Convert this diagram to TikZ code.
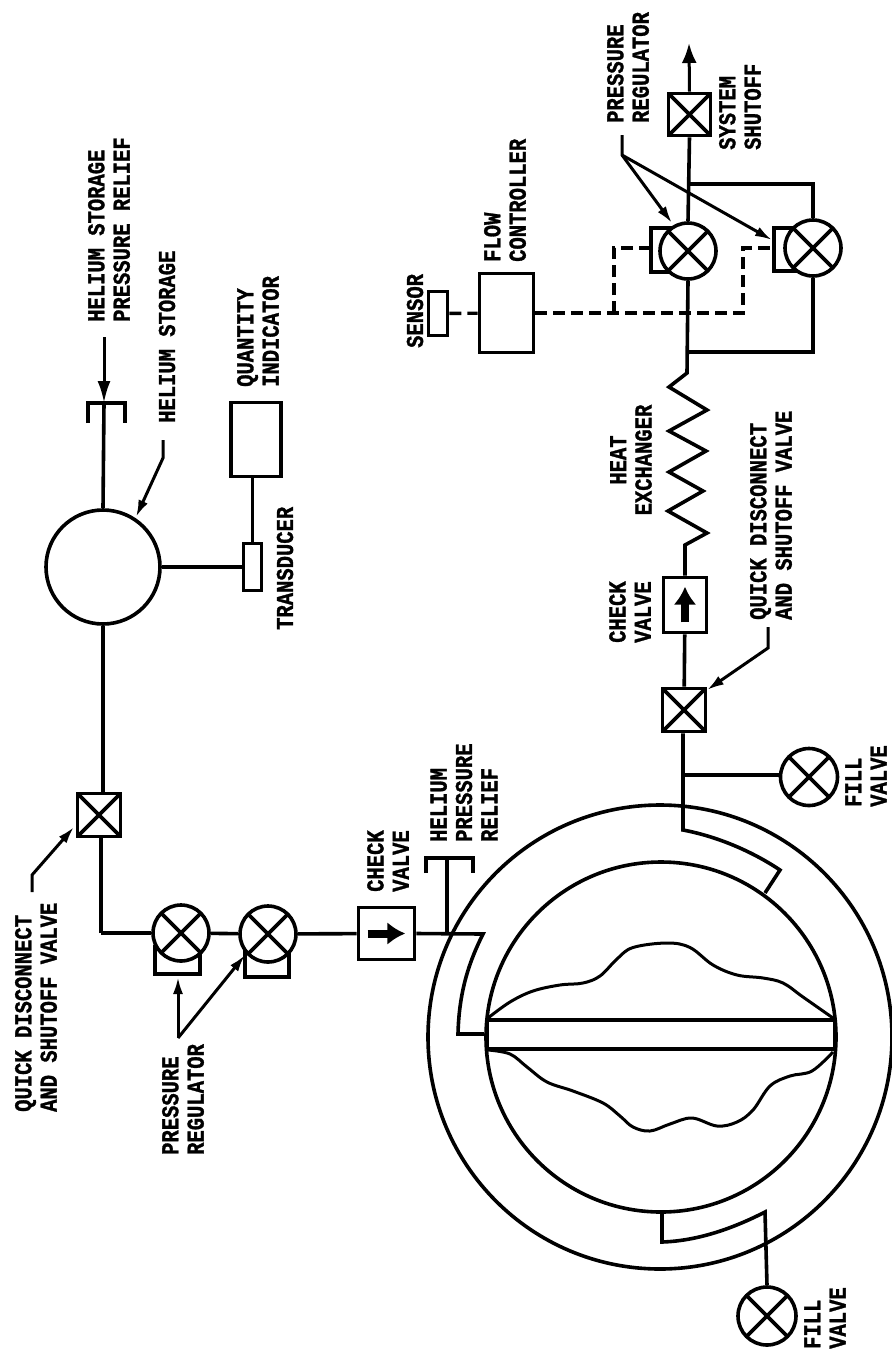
\documentclass[tikz,border=0pt]{standalone}
\usepackage{fontspec}
\setmonofont[BoldFeatures={FakeBold=1.4}]{Liberation Mono}
\usetikzlibrary{arrows.meta}
\tikzset{
  pipe/.style={line width=3.6pt, line join=miter},
  sig/.style={line width=3.4pt, dash pattern=on 12pt off 6pt},
  lead/.style={line width=3pt, -{Latex[length=17pt,width=10pt]}},
  flowarrow/.style={line width=8pt, -{Latex[length=18pt,width=23pt]}},
  lbl/.style={transform shape, rotate=90, yscale=1.18, anchor=west, align=left, inner sep=0pt,
    font=\fontsize{20.5}{21.5}\selectfont\ttfamily\bfseries},
  ctrlbl/.style={lbl, anchor=center, align=center},
  xvalve/.style={draw, circle, pipe, fill=white, inner sep=0pt, minimum size=56pt,
    path picture={\draw[pipe] (path picture bounding box.north west) -- (path picture bounding box.south east)
      (path picture bounding box.north east) -- (path picture bounding box.south west);}},
  qdbox/.style={draw, rectangle, pipe, fill=white, inner sep=0pt, minimum size=43pt,
    path picture={\draw[pipe] (path picture bounding box.north west) -- (path picture bounding box.south east)
      (path picture bounding box.north east) -- (path picture bounding box.south west);}},
  plainbox/.style={draw, rectangle, pipe, fill=white, inner sep=0pt},
  tank/.style={draw, circle, pipe, inner sep=0pt},
}
\begin{document}
\begin{tikzpicture}[x=1pt, y=-1pt, >=latex]
  \useasboundingbox (0,0) rectangle (892,1353);

  % propellant tank
  \node[tank, minimum size=464pt] (tankOuter) at (660,1037) {};
  \node[tank, minimum size=350pt] (tankInner) at (661,1037) {};
  \draw[pipe] (487,1020) rectangle (835,1049);
  \draw[pipe, line width=3pt] plot[smooth, tension=0.6] coordinates {(488,1018) (510,1002) (533,991) (560,985)
    (583,983) (600,976) (617,959) (633,947.5) (667,943) (690,947.5) (713,965) (737,975) (763,978)
    (783,983) (803,997) (833,1018)};
  \draw[pipe, line width=3pt] plot[smooth, tension=0.6] coordinates {(488,1050) (510,1054) (527,1067) (547,1082)
    (573,1091) (603,1103) (620,1116) (633,1127) (650,1131) (670,1124) (692,1118) (717,1126) (737,1122)
    (753,1110) (770,1086) (790,1076) (812,1071) (833,1052)};

  % regulator brackets go under the valves
  \draw[pipe] (155,945) -- (155,974) -- (200,974) -- (200,950);
  \draw[pipe] (245,950) -- (245,977) -- (289,977) -- (289,950);
  \draw[pipe] (675,228) -- (651,228) -- (651,272) -- (675,272);
  \draw[pipe] (800,228) -- (774,228) -- (774,271) -- (800,271);

  % helium side
  \node[tank, minimum size=114pt] (storage) at (103,567) {};
  \node[plainbox, minimum width=50pt, minimum height=74pt] (quantity) at (256,439.5) {};
  \node[plainbox, minimum width=18pt, minimum height=47pt] (transducer) at (252.5,567) {};
  \node[qdbox] (qdA) at (99,815) {};
  \node[xvalve] (regA) at (181,933) {};
  \node[xvalve] (regB) at (268,934) {};
  \node[plainbox, minimum width=56pt, minimum height=52pt] (chkA) at (386.5,933.5) {};

  % feed side
  \node[qdbox] (qdB) at (684,710) {};
  \node[plainbox, minimum width=43pt, minimum height=55pt] (chkB) at (685,605) {};
  \node[xvalve] (regC) at (688,251) {};
  \node[xvalve] (regD) at (813,248) {};
  \node[qdbox, minimum size=42pt] (shutoff) at (689.5,114.5) {};
  \node[plainbox, minimum width=54pt, minimum height=79pt] (flow) at (506.5,313) {};
  \node[plainbox, minimum width=19pt, minimum height=44pt] (sensor) at (438,313.5) {};
  \node[xvalve, minimum size=57pt] (fillA) at (809,777) {};
  \node[xvalve, minimum size=58pt] (fillB) at (767,1316) {};

  % free ends
  \coordinate (reliefTop) at (104,337);
  \coordinate (reliefBar) at (104,403);
  \coordinate (teeA) at (447,934);
  \coordinate (teeB) at (447,858);
  \coordinate (corner) at (101,933);
  \coordinate (hxTop) at (687,373);
  \coordinate (hxBot) at (685,545);
  \coordinate (outlet) at (689,43);
  \coordinate (bypassTop) at (689,184);
  \coordinate (bypassBot) at (688,352);
  \coordinate (fillTee) at (683,775);
  \coordinate (ctrlTee) at (614,313);

  % helium lines
  \draw[pipe] (storage) -- (storage |- qdA.north);
  \draw[pipe] (storage.north) -- (reliefBar);
  \draw[pipe, line width=3pt, -{Latex[length=22pt,width=13pt]}] (reliefTop) -- (reliefBar);
  \draw[pipe] (88,423) -- (88,403) -- (125,403) -- (125,423);
  \draw[pipe] (storage.east |- transducer) -- (transducer.west);
  \draw[pipe] (quantity.south -| transducer) -- (transducer.north);
  \draw[pipe] (corner) -- (regA.west);
  \draw[pipe] (corner) -- (corner |- qdA.south);
  \draw[pipe] (regA) -- (regB);
  \draw[pipe] (regB) -- (chkA);
  \draw[flowarrow] ([xshift=11pt]chkA.west) -- ([xshift=-11pt]chkA.east);
  \draw[pipe] (chkA.east) -- (483,934) .. controls (470,960) and (459,990) .. (458,1034) -- (tankInner.west |- 458,1034);
  \draw[pipe] (teeA) -- (teeB);
  \draw[pipe] (426,873) -- (426,858) -- (473,858) -- (473,873);

  % feed lines
  \draw[pipe] (qdB.south) ++(-1,0) -- (683,830) .. controls (715,836) and (750,850) .. (780,870) -- (765,893);
  \draw[pipe] (fillTee) -- (fillA.west |- fillTee);
  \draw[pipe] (qdB) -- (chkB);
  \draw[flowarrow] ([yshift=12pt]chkB.south) -- ([yshift=-11pt]chkB.north);
  \draw[pipe] (chkB.north) -- (hxBot) -- (707,533) -- (668,511) -- (703,491) -- (669,472) -- (706,451)
    -- (669,431) -- (707,410) -- (669,387) -- (hxTop) -- (regC.south);
  \draw[pipe] (regC.north) -- (shutoff.south);
  \draw[pipe, line width=3pt, -{Latex[length=20pt,width=15pt]}] (shutoff.north) -- (outlet);
  \draw[pipe] (bypassTop) -| (regD.north);
  \draw[pipe] (regD.south) |- (bypassBot);
  \draw[pipe] (662,1214) -- (662,1242) .. controls (695,1241) and (730,1230) .. (765,1212) -- (fillB.north);

  % controller lines
  \draw[sig] (sensor) -- (flow);
  \draw[sig] (flow.east) -- (743,313) -- (743,248) -- (774,248);
  \draw[sig] (ctrlTee) -- (614,248) -- (651,248);

  % leaders
  \draw[lead] (32,892) -- (32,875) -- (74,827);
  \draw[lead] (163,440) -- (163,458) -- (136,517);
  \draw[lead] (178,1038) -- (178,977);
  \draw[lead] (178,1038) -- (245,955);
  \draw[lead] (622,135) -- (622,155) -- (672,223);
  \draw[lead] (622,155) -- (772,240);
  \draw[lead] (768,627) -- (768,648) -- (707,690);

  % labels
  \node[lbl] (lblReliefTop) at (109,322) {HELIUM STORAGE\\PRESSURE RELIEF};
  \node[lbl] (lblStorage) at (167,423) {HELIUM STORAGE};
  \node[lbl] (lblQuantity) at (258,387) {QUANTITY\\INDICATOR};
  \node[lbl] (lblTransducer) at (285,630) {TRANSDUCER};
  \node[lbl] (lblQdA) at (36,1112) {QUICK DISCONNECT\\AND SHUTOFF VALVE};
  \node[lbl] (lblRegA) at (183,1155) {PRESSURE\\REGULATOR};
  \node[lbl] (lblChkA) at (388,892) {CHECK\\VALVE};
  \node[lbl] (lblReliefB) at (464,842) {HELIUM\\PRESSURE\\RELIEF};
  \node[lbl] (lblFillA) at (866,807) {FILL\\VALVE};
  \node[lbl] (lblFillB) at (825,1349) {FILL\\VALVE};
  \node[lbl] (lblQdB) at (771,620) {QUICK DISCONNECT\\AND SHUTOFF VALVE};
  \node[lbl] (lblChkB) at (630,643) {CHECK\\VALVE};
  \node[ctrlbl] (lblHeat) at (631,460) {HEAT\\EXCHANGER};
  \node[lbl] (lblSensor) at (415,348) {SENSOR};
  \node[lbl] (lblFlow) at (505,262) {FLOW\\CONTROLLER};
  \node[lbl] (lblRegC) at (628,123) {PRESSURE\\REGULATOR};
  \node[lbl] (lblShutoff) at (740,150) {SYSTEM\\SHUTOFF};
\end{tikzpicture}
\end{document}
